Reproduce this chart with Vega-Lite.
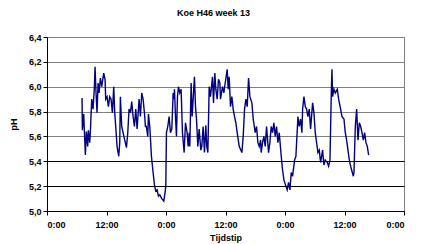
{
  "$schema": "https://vega.github.io/schema/vega-lite/v6.json",
  "width": 357,
  "height": 174,
  "autosize": {"type": "none"},
  "padding": {"left": 47, "top": 37, "right": 19, "bottom": 33},
  "background": "white",
  "config": {
    "font": "Liberation Sans",
    "view": {"stroke": "#808080", "strokeWidth": 1}
  },
  "title": {
    "text": "Koe H46 week 13",
    "font": "Liberation Sans",
    "fontSize": 9,
    "fontWeight": "bold",
    "color": "black",
    "anchor": "middle",
    "dx": -12,
    "offset": 15
  },
  "data": {
    "values": [
      {"t": 7.07, "ph": 5.91}, {"t": 7.13, "ph": 5.65}, {"t": 7.40, "ph": 5.78}, {"t": 7.74, "ph": 5.45},
      {"t": 7.94, "ph": 5.64}, {"t": 8.21, "ph": 5.52}, {"t": 8.34, "ph": 5.65}, {"t": 8.61, "ph": 5.55},
      {"t": 8.75, "ph": 5.64}, {"t": 9.02, "ph": 5.90}, {"t": 9.29, "ph": 5.82}, {"t": 9.56, "ph": 6.00},
      {"t": 9.69, "ph": 6.16}, {"t": 9.89, "ph": 5.95}, {"t": 10.09, "ph": 5.79}, {"t": 10.30, "ph": 6.03},
      {"t": 10.50, "ph": 5.95}, {"t": 10.77, "ph": 6.07}, {"t": 11.04, "ph": 6.00}, {"t": 11.44, "ph": 6.11},
      {"t": 11.71, "ph": 6.06}, {"t": 11.84, "ph": 5.90}, {"t": 12.11, "ph": 5.92}, {"t": 12.38, "ph": 5.84},
      {"t": 12.65, "ph": 5.92}, {"t": 12.92, "ph": 5.90}, {"t": 13.19, "ph": 5.79}, {"t": 13.46, "ph": 6.00},
      {"t": 13.66, "ph": 5.79}, {"t": 13.86, "ph": 5.68}, {"t": 14.13, "ph": 5.52}, {"t": 14.47, "ph": 5.44},
      {"t": 14.67, "ph": 5.55}, {"t": 14.80, "ph": 5.92}, {"t": 15.07, "ph": 5.68}, {"t": 15.34, "ph": 5.63},
      {"t": 15.68, "ph": 5.57}, {"t": 16.02, "ph": 5.51}, {"t": 16.29, "ph": 5.63}, {"t": 16.55, "ph": 5.82},
      {"t": 16.82, "ph": 5.79}, {"t": 17.09, "ph": 5.88}, {"t": 17.36, "ph": 5.76}, {"t": 17.63, "ph": 5.68},
      {"t": 17.90, "ph": 5.82}, {"t": 18.17, "ph": 5.66}, {"t": 18.57, "ph": 5.90}, {"t": 18.84, "ph": 5.76},
      {"t": 19.11, "ph": 5.95}, {"t": 19.38, "ph": 5.90}, {"t": 19.65, "ph": 5.79}, {"t": 19.85, "ph": 5.68},
      {"t": 20.05, "ph": 5.68}, {"t": 20.32, "ph": 5.60}, {"t": 20.46, "ph": 5.78}, {"t": 20.73, "ph": 5.68},
      {"t": 21.06, "ph": 5.44}, {"t": 21.40, "ph": 5.31}, {"t": 21.67, "ph": 5.21}, {"t": 21.94, "ph": 5.16},
      {"t": 22.21, "ph": 5.17}, {"t": 22.48, "ph": 5.12}, {"t": 22.75, "ph": 5.13}, {"t": 23.15, "ph": 5.10},
      {"t": 23.55, "ph": 5.08}, {"t": 23.82, "ph": 5.15}, {"t": 23.96, "ph": 5.20}, {"t": 24.09, "ph": 5.63},
      {"t": 24.36, "ph": 5.68}, {"t": 24.63, "ph": 5.76}, {"t": 24.90, "ph": 5.63}, {"t": 25.17, "ph": 5.66},
      {"t": 25.44, "ph": 5.95}, {"t": 25.57, "ph": 5.90}, {"t": 25.71, "ph": 5.98}, {"t": 25.91, "ph": 5.76},
      {"t": 26.11, "ph": 5.60}, {"t": 26.31, "ph": 5.92}, {"t": 26.51, "ph": 6.00}, {"t": 26.78, "ph": 5.95},
      {"t": 27.05, "ph": 5.98}, {"t": 27.32, "ph": 5.63}, {"t": 27.66, "ph": 5.47}, {"t": 27.93, "ph": 5.71},
      {"t": 28.26, "ph": 5.63}, {"t": 28.47, "ph": 5.52}, {"t": 28.67, "ph": 5.63}, {"t": 28.80, "ph": 5.52},
      {"t": 29.07, "ph": 6.03}, {"t": 29.27, "ph": 5.76}, {"t": 29.74, "ph": 6.08}, {"t": 29.95, "ph": 5.84},
      {"t": 30.15, "ph": 5.74}, {"t": 30.42, "ph": 5.52}, {"t": 30.69, "ph": 5.66}, {"t": 31.02, "ph": 5.49},
      {"t": 31.22, "ph": 5.52}, {"t": 31.49, "ph": 5.68}, {"t": 31.76, "ph": 5.47}, {"t": 32.03, "ph": 5.69},
      {"t": 32.23, "ph": 5.52}, {"t": 32.44, "ph": 5.47}, {"t": 32.71, "ph": 6.00}, {"t": 32.97, "ph": 5.92},
      {"t": 33.38, "ph": 6.08}, {"t": 33.58, "ph": 5.87}, {"t": 33.85, "ph": 6.11}, {"t": 34.05, "ph": 5.98},
      {"t": 34.32, "ph": 5.90}, {"t": 34.59, "ph": 6.06}, {"t": 34.86, "ph": 6.03}, {"t": 34.99, "ph": 5.90},
      {"t": 35.40, "ph": 6.00}, {"t": 35.67, "ph": 5.95}, {"t": 35.94, "ph": 6.03}, {"t": 36.34, "ph": 6.14},
      {"t": 36.54, "ph": 5.98}, {"t": 36.74, "ph": 6.08}, {"t": 37.01, "ph": 5.84}, {"t": 37.28, "ph": 5.92},
      {"t": 37.55, "ph": 5.82}, {"t": 37.82, "ph": 5.76}, {"t": 38.09, "ph": 5.71}, {"t": 38.36, "ph": 5.63},
      {"t": 38.76, "ph": 5.52}, {"t": 39.30, "ph": 5.47}, {"t": 39.57, "ph": 5.60}, {"t": 39.84, "ph": 5.82},
      {"t": 40.11, "ph": 5.90}, {"t": 40.38, "ph": 5.84}, {"t": 40.65, "ph": 6.07}, {"t": 40.92, "ph": 5.92},
      {"t": 41.32, "ph": 5.87}, {"t": 41.59, "ph": 5.74}, {"t": 41.99, "ph": 5.63}, {"t": 42.26, "ph": 5.68},
      {"t": 42.53, "ph": 5.55}, {"t": 42.80, "ph": 5.52}, {"t": 43.07, "ph": 5.57}, {"t": 43.20, "ph": 5.47},
      {"t": 43.47, "ph": 5.55}, {"t": 43.74, "ph": 5.60}, {"t": 44.01, "ph": 5.52}, {"t": 44.28, "ph": 5.68},
      {"t": 44.68, "ph": 5.47}, {"t": 44.95, "ph": 5.55}, {"t": 45.22, "ph": 5.68}, {"t": 45.49, "ph": 5.63},
      {"t": 45.76, "ph": 5.71}, {"t": 46.03, "ph": 5.60}, {"t": 46.30, "ph": 5.68}, {"t": 46.57, "ph": 5.55},
      {"t": 46.84, "ph": 5.63}, {"t": 47.24, "ph": 5.44}, {"t": 47.51, "ph": 5.33}, {"t": 47.78, "ph": 5.25},
      {"t": 48.18, "ph": 5.20}, {"t": 48.45, "ph": 5.17}, {"t": 48.72, "ph": 5.23}, {"t": 48.99, "ph": 5.17},
      {"t": 49.26, "ph": 5.31}, {"t": 49.53, "ph": 5.28}, {"t": 49.93, "ph": 5.41}, {"t": 50.20, "ph": 5.44},
      {"t": 50.61, "ph": 5.76}, {"t": 50.87, "ph": 5.68}, {"t": 51.14, "ph": 5.74}, {"t": 51.41, "ph": 5.63},
      {"t": 51.55, "ph": 5.82}, {"t": 51.82, "ph": 5.92}, {"t": 52.09, "ph": 5.84}, {"t": 52.36, "ph": 5.82},
      {"t": 52.62, "ph": 5.76}, {"t": 52.89, "ph": 5.82}, {"t": 53.16, "ph": 5.66}, {"t": 53.57, "ph": 5.87},
      {"t": 53.84, "ph": 5.79}, {"t": 54.10, "ph": 5.63}, {"t": 54.37, "ph": 5.55}, {"t": 54.64, "ph": 5.47},
      {"t": 54.91, "ph": 5.49}, {"t": 55.18, "ph": 5.39}, {"t": 55.58, "ph": 5.49}, {"t": 55.85, "ph": 5.37},
      {"t": 56.12, "ph": 5.41}, {"t": 56.53, "ph": 5.39}, {"t": 56.80, "ph": 5.36}, {"t": 57.07, "ph": 5.41},
      {"t": 57.34, "ph": 5.95}, {"t": 57.47, "ph": 6.14}, {"t": 57.60, "ph": 5.92}, {"t": 57.87, "ph": 5.98},
      {"t": 58.14, "ph": 5.95}, {"t": 58.55, "ph": 5.98}, {"t": 58.82, "ph": 5.90}, {"t": 59.22, "ph": 5.82},
      {"t": 59.49, "ph": 5.76}, {"t": 59.89, "ph": 5.74}, {"t": 60.16, "ph": 5.63}, {"t": 60.43, "ph": 5.57},
      {"t": 60.70, "ph": 5.49}, {"t": 60.97, "ph": 5.41}, {"t": 61.24, "ph": 5.36}, {"t": 61.78, "ph": 5.28},
      {"t": 61.91, "ph": 5.31}, {"t": 62.18, "ph": 5.68}, {"t": 62.45, "ph": 5.82}, {"t": 62.72, "ph": 5.57},
      {"t": 62.99, "ph": 5.71}, {"t": 63.26, "ph": 5.68}, {"t": 63.53, "ph": 5.63}, {"t": 63.80, "ph": 5.57},
      {"t": 64.06, "ph": 5.63}, {"t": 64.33, "ph": 5.55}, {"t": 64.60, "ph": 5.52}, {"t": 64.87, "ph": 5.45}
    ]
  },
  "mark": {"type": "line", "color": "#000080", "strokeWidth": 1.4, "clip": true},
  "encoding": {
    "x": {
      "field": "t",
      "type": "quantitative",
      "scale": {"domain": [0, 72], "nice": false, "zero": false},
      "axis": {
        "title": "Tijdstip",
        "values": [0, 12, 24, 36, 48, 60, 72],
        "labelExpr": "datum.value % 24 == 0 ? '0:00' : '12:00'",
        "grid": false,
        "domainColor": "black",
        "domainWidth": 1,
        "tickColor": "black",
        "tickSize": 4,
        "labelFont": "Liberation Sans",
        "labelFontSize": 9,
        "labelFontWeight": "bold",
        "labelColor": "black",
        "labelPadding": 5,
        "titleFont": "Liberation Sans",
        "titleFontSize": 9,
        "titleFontWeight": "bold",
        "titleColor": "black",
        "titlePadding": 4
      }
    },
    "y": {
      "field": "ph",
      "type": "quantitative",
      "scale": {"domain": [5.0, 6.4], "nice": false, "zero": false},
      "axis": {
        "title": "pH",
        "values": [5.0, 5.2, 5.4, 5.6, 5.8, 6.0, 6.2, 6.4],
        "labelExpr": "replace(format(datum.value, '.1f'), '.', ',')",
        "grid": true,
        "gridColor": {"condition": {"test": "datum.value < 5.5", "value": "black"}, "value": "#808080"},
        "gridWidth": 1.2,
        "domainColor": "black",
        "domainWidth": 1,
        "tickColor": "black",
        "tickSize": 4,
        "labelFont": "Liberation Sans",
        "labelFontSize": 9,
        "labelFontWeight": "bold",
        "labelColor": "black",
        "labelPadding": 2,
        "titleFont": "Liberation Sans",
        "titleFontSize": 9,
        "titleFontWeight": "bold",
        "titleColor": "black",
        "titlePadding": 10
      }
    }
  }
}
